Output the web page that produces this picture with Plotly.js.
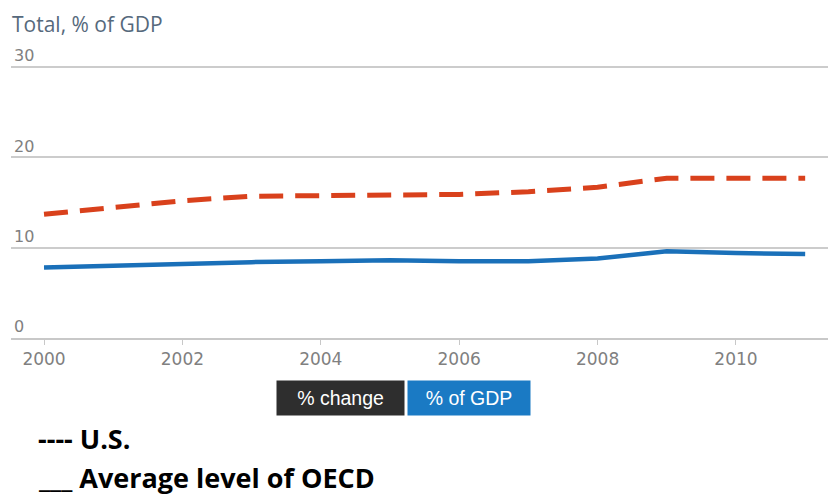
<!DOCTYPE html>
<html>
<head>
<meta charset="utf-8">
<script src="https://cdn.plot.ly/plotly-3.0.1.min.js"></script>
<style>html,body{margin:0;padding:0;background:#fff;}#chart{width:830px;height:497px;}</style>
</head>
<body>
<div id="chart"></div>
<script>
const years = [2000, 2001, 2002, 2003, 2004, 2005, 2006, 2007, 2008, 2009, 2010, 2011];
const usValues = [13.7, 14.4, 15.2, 15.7, 15.8, 15.8, 15.9, 16.2, 16.7, 17.7, 17.7, 17.7];
const oecdValues = [7.8, 8.0, 8.3, 8.4, 8.5, 8.6, 8.5, 8.5, 8.8, 9.6, 9.4, 9.3];
const yTicks = [0, 10, 20, 30];
const xTicks = [2000, 2002, 2004, 2006, 2008, 2010];

const W = 830, H = 497, L = 11, R = 2, T = 40, B = 159;
const pw = W - L - R, ph = H - T - B;
const px = x => (x - L) / pw;
const py = y => (H - B - y) / ph;

const traces = [
  {x: years, y: usValues, type: 'scatter', mode: 'lines', name: 'U.S.',
   line: {color: '#d9411c', width: 5, dash: '24px,12px'}, hoverinfo: 'x+y'},
  {x: years, y: oecdValues, type: 'scatter', mode: 'lines', name: 'OECD',
   line: {color: '#1a70b9', width: 4.5}, hoverinfo: 'x+y'}
];

const layout = {
  width: W, height: H,
  margin: {l: L, r: R, t: T, b: B, pad: 0},
  paper_bgcolor: '#fff', plot_bgcolor: '#fff',
  showlegend: false,
  font: {family: 'DejaVu Sans, sans-serif', color: '#808080'},
  title: {text: 'Total, % of GDP', x: 12 / W, xanchor: 'left', xref: 'container',
          y: 1 - 25 / H, yanchor: 'middle', yref: 'container',
          font: {size: 21, color: '#56697c', family: 'Open Sans, sans-serif'}},
  xaxis: {range: [1999.523, 2011.33], tickvals: xTicks, ticktext: xTicks.map(String),
          showgrid: false, zeroline: false, showline: true, linecolor: '#c8c8c8', linewidth: 1.5,
          ticks: 'outside', ticklen: 5, tickcolor: '#c8c8c8',
          tickfont: {size: 17, color: '#808080', family: 'DejaVu Sans, sans-serif'}, fixedrange: true},
  yaxis: {range: [0, 33], tickvals: yTicks, ticktext: yTicks.map(String),
          ticklabelposition: 'inside top', showgrid: true, gridcolor: '#cccccc', gridwidth: 1.5,
          zeroline: false, showline: false, ticks: '',
          tickfont: {size: 16, color: '#808080', family: 'DejaVu Sans, sans-serif'}, fixedrange: true},
  annotations: [
    {xref: 'paper', yref: 'paper', x: px(340.5), y: py(398), xanchor: 'center', yanchor: 'middle',
     text: '% change', showarrow: false, width: 121, height: 28, bgcolor: '#2e2e2e',
     borderpad: 3, font: {size: 19.5, color: '#fff', family: 'Liberation Sans, Arial, sans-serif'}},
    {xref: 'paper', yref: 'paper', x: px(469), y: py(398), xanchor: 'center', yanchor: 'middle',
     text: '% of GDP', showarrow: false, width: 116, height: 28, bgcolor: '#1a7ac4',
     borderpad: 3, font: {size: 19.5, color: '#fff', family: 'Liberation Sans, Arial, sans-serif'}},
    {xref: 'paper', yref: 'paper', x: px(36), y: py(438), xanchor: 'left', yanchor: 'middle',
     text: '<b>---- U.S.</b>', showarrow: false,
     font: {size: 27, color: '#000', family: 'Open Sans, DejaVu Sans, sans-serif'}},
    {xref: 'paper', yref: 'paper', x: px(36), y: py(477), xanchor: 'left', yanchor: 'middle',
     text: '<b>___ Average level of OECD</b>', showarrow: false,
     font: {size: 27, color: '#000', family: 'Open Sans, DejaVu Sans, sans-serif'}}
  ]
};

Plotly.newPlot('chart', traces, layout, {displayModeBar: false});
</script>
</body>
</html>
